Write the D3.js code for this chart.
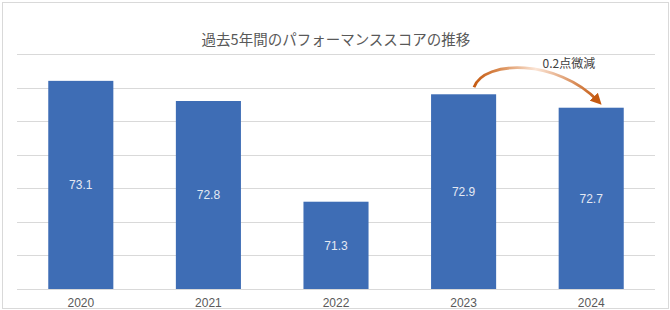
<!DOCTYPE html>
<html>
<head>
<meta charset="utf-8">
<script src="https://cdn.jsdelivr.net/npm/d3@7"></script>
<style>
  body { margin: 0; background: #fff; }
  svg { display: block; }
</style>
</head>
<body>
<svg id="chart" width="670" height="310"></svg>
<script>
// data
var years = ["2020", "2021", "2022", "2023", "2024"];
var scores = [73.1, 72.8, 71.3, 72.9, 72.7];
var yTicks = [70, 70.5, 71, 71.5, 72, 72.5, 73, 73.5];
var title = "過去5年間のパフォーマンススコアの推移";
var note = "0.2点微減";

var translate = function(x, y) { return "translate(" + x + "," + y + ")"; };

var margin = { top: 54, right: 15, bottom: 21, left: 17 };
var svg = d3.select("#chart");
var width = 670, height = 310;
var plotWidth = width - margin.left - margin.right;
var plotHeight = height - margin.top - margin.bottom;

// outer frame
svg.append("rect")
  .attr("x", 2.5).attr("y", 2.5)
  .attr("width", width - 4).attr("height", height - 4)
  .attr("fill", "#fff")
  .attr("stroke", "#d9d9d9");

var x = d3.scaleBand()
  .domain(years)
  .range([0, plotWidth])
  .paddingInner(0.49)
  .paddingOuter(0.245);

var y = d3.scaleLinear()
  .domain([70, 73.5])
  .range([plotHeight, 0]);

var plot = svg.append("g").attr("transform", translate(margin.left, margin.top));

// gridlines
plot.append("g").selectAll("line")
  .data(yTicks)
  .enter().append("line")
  .attr("x1", 0).attr("x2", plotWidth)
  .attr("y1", function(d) { return Math.round(y(d)) + 0.5; })
  .attr("y2", function(d) { return Math.round(y(d)) + 0.5; })
  .attr("stroke", "#d9d9d9")
  .attr("stroke-width", 1);

// bars
var data = years.map(function(d, i) { return { year: d, value: scores[i] }; });

plot.selectAll(".bar")
  .data(data)
  .enter().append("rect")
  .attr("class", "bar")
  .attr("x", function(d) { return x(d.year); })
  .attr("y", function(d) { return y(d.value); })
  .attr("width", x.bandwidth())
  .attr("height", function(d) { return y(70) - y(d.value); })
  .attr("fill", "#3e6db5");

plot.selectAll(".label")
  .data(data)
  .enter().append("text")
  .attr("class", "label")
  .attr("x", function(d) { return x(d.year) + x.bandwidth() / 2; })
  .attr("y", function(d) { return (y(d.value) + y(70)) / 2; })
  .attr("dy", "0.35em")
  .attr("text-anchor", "middle")
  .style("font", "12px 'Liberation Sans', Arial, sans-serif")
  .style("fill", "#e4e9f3")
  .text(function(d) { return d.value.toFixed(1); });

// x axis labels
var xAxis = d3.axisBottom(x).tickSize(0).tickPadding(9);
var gx = plot.append("g").attr("transform", translate(0, plotHeight)).call(xAxis);
gx.select(".domain").remove();
gx.selectAll("text")
  .style("font", "12px 'Liberation Sans', Arial, sans-serif")
  .style("fill", "#595959");

// title
svg.append("text")
  .attr("x", margin.left + plotWidth / 2)
  .attr("y", 45)
  .attr("text-anchor", "middle")
  .style("font", "14.5px 'Noto Sans CJK JP', sans-serif")
  .style("fill", "#595959")
  .text(title);

// curved arrow annotation 2023 -> 2024
var defs = svg.append("defs");
var x0 = margin.left + x("2023") + x.bandwidth() * 0.66;
var y0 = margin.top + y(scores[3]) - 7;
var x1 = margin.left + x("2024") + x.bandwidth() * 0.6;
var y1 = margin.top + y(scores[4]) - 3;

var grad = defs.append("linearGradient")
  .attr("id", "arrowGrad")
  .attr("gradientUnits", "userSpaceOnUse")
  .attr("x1", x0).attr("y1", 0).attr("x2", x1).attr("y2", 0);
grad.append("stop").attr("offset", "0%").attr("stop-color", "#c55a11");
grad.append("stop").attr("offset", "20%").attr("stop-color", "#d9894f");
grad.append("stop").attr("offset", "50%").attr("stop-color", "#fbe5d6");
grad.append("stop").attr("offset", "100%").attr("stop-color", "#c55a11");

defs.append("marker")
  .attr("id", "head")
  .attr("viewBox", "0 0 10 10")
  .attr("refX", 5).attr("refY", 5)
  .attr("markerWidth", 4).attr("markerHeight", 4)
  .attr("orient", "auto")
  .append("path")
  .attr("d", "M0,0 L10,5 L0,10 z")
  .attr("fill", "#c55a11");

var p = d3.path();
p.moveTo(x0, y0);
p.bezierCurveTo(x0 + 10, y0 - 28, x1 - 40, y0 - 28, x1, y1 - 4);
svg.append("path")
  .attr("d", p.toString())
  .attr("fill", "none")
  .attr("stroke", "url(#arrowGrad)")
  .attr("stroke-width", 2.8)
  .attr("marker-end", "url(#head)");

svg.append("text")
  .attr("x", (x0 + x1) / 2 + 33)
  .attr("y", 68)
  .attr("text-anchor", "middle")
  .style("font", "12px 'Noto Sans CJK JP', sans-serif")
  .style("fill", "#404040")
  .text(note);
</script>
</body>
</html>
